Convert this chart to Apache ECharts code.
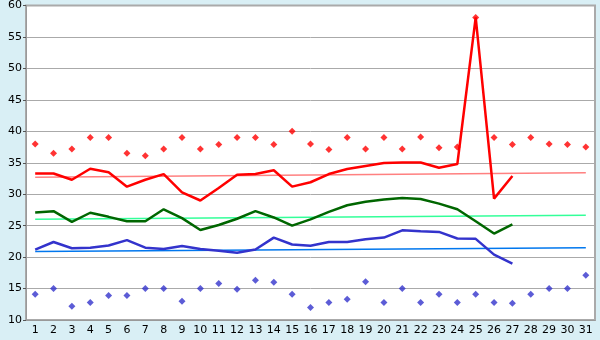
<!DOCTYPE html>
<html><head><meta charset="utf-8">
<script src="https://cdn.jsdelivr.net/npm/echarts@6/dist/echarts.min.js"></script>
<style>html,body{margin:0;padding:0;background:#D9EFF5}#c{width:600px;height:340px}</style>
</head><body><div id="c"></div>
<script>
const days = Array.from({length:31},(_,i)=>String(i+1));
const yTicks = [10,15,20,25,30,35,40,45,50,55,60];
const maxPoints = [38,36.5,37.2,39,39,36.5,36.1,37.2,39,37.2,37.9,39,39,37.9,40,38,37.1,39,37.2,39,37.2,39.1,37.4,37.5,58.1,39,37.9,39,38,37.9,37.5];
const minPoints = [14.1,15,12.2,12.8,13.9,13.9,15,15,13,15,15.8,14.9,16.3,16,14.1,12,12.8,13.3,16.1,12.8,15,12.8,14.1,12.8,14.1,12.8,12.65,14.1,15,15,17.1];
const redLine = [33.3,33.3,32.3,34.05,33.5,31.2,32.3,33.2,30.3,29,31,33.1,33.2,33.8,31.2,31.9,33.2,34,34.5,34.95,35.05,35.05,34.2,34.8,58.1,29.3,32.9,null,null,null,null];
const greenLine = [27.1,27.3,25.6,27.05,26.4,25.7,25.7,27.6,26.2,24.3,25.1,26.1,27.3,26.3,25,26,27.2,28.25,28.8,29.15,29.4,29.25,28.5,27.6,25.7,23.75,25.2,null,null,null,null];
const blueLine = [21.2,22.4,21.4,21.5,21.85,22.7,21.5,21.3,21.75,21.3,21,20.7,21.2,23.1,22,21.8,22.4,22.4,22.85,23.1,24.25,24.1,24,22.95,22.9,20.4,18.95,null,null,null,null];
const redTrendEnds = [32.7,33.4];
const greenTrendEnds = [26.0,26.67];
const blueTrendEnds = [20.9,21.5];

function trend(ends){
  const d = new Array(days.length).fill(null);
  d[0]=ends[0]; d[days.length-1]=ends[1];
  return d;
}
const font = 'DejaVu Sans';
const chart = echarts.init(document.getElementById('c'));
chart.setOption({
  backgroundColor:'#D9EFF5',
  animation:false,
  grid:{left:26,right:5,top:5,bottom:20,show:true,backgroundColor:'#fff',borderColor:'#aaa',borderWidth:2},
  xAxis:{type:'category',data:days,boundaryGap:true,
    axisLine:{lineStyle:{color:'#999',width:1}},
    axisTick:{alignWithLabel:true,length:4,lineStyle:{color:'#555'}},
    axisLabel:{color:'#000',fontFamily:font,fontSize:11,margin:5,interval:0}},
  yAxis:{type:'value',min:10,max:60,interval:5,
    axisLine:{show:true,lineStyle:{color:'#999'}},
    axisTick:{show:true,length:3,lineStyle:{color:'#555'}},
    splitLine:{lineStyle:{color:'#aaa',width:1}},
    axisLabel:{color:'#000',fontFamily:font,fontSize:11,margin:4,
      formatter:v=>yTicks.includes(v)?String(v):''}},
  series:[
    {type:'line',data:trend(redTrendEnds),connectNulls:true,symbol:'none',lineStyle:{color:'#FF8080',width:1.5},z:2},
    {type:'line',data:trend(greenTrendEnds),connectNulls:true,symbol:'none',lineStyle:{color:'#33FF99',width:1.5},z:2},
    {type:'line',data:trend(blueTrendEnds),connectNulls:true,symbol:'none',lineStyle:{color:'#0077EE',width:1.5},z:2},
    {type:'line',data:redLine,symbol:'none',lineStyle:{color:'#FF0000',width:2.5},z:3},
    {type:'line',data:greenLine,symbol:'none',lineStyle:{color:'#006600',width:2.5},z:3},
    {type:'line',data:blueLine,symbol:'none',lineStyle:{color:'#3333CC',width:2.5},z:3},
    {type:'scatter',data:maxPoints,symbol:'diamond',symbolSize:7,itemStyle:{color:'#FF0000'},z:4},
    {type:'scatter',data:minPoints,symbol:'diamond',symbolSize:7,itemStyle:{color:'#3333CC'},z:4}
  ]
});
</script></body></html>
